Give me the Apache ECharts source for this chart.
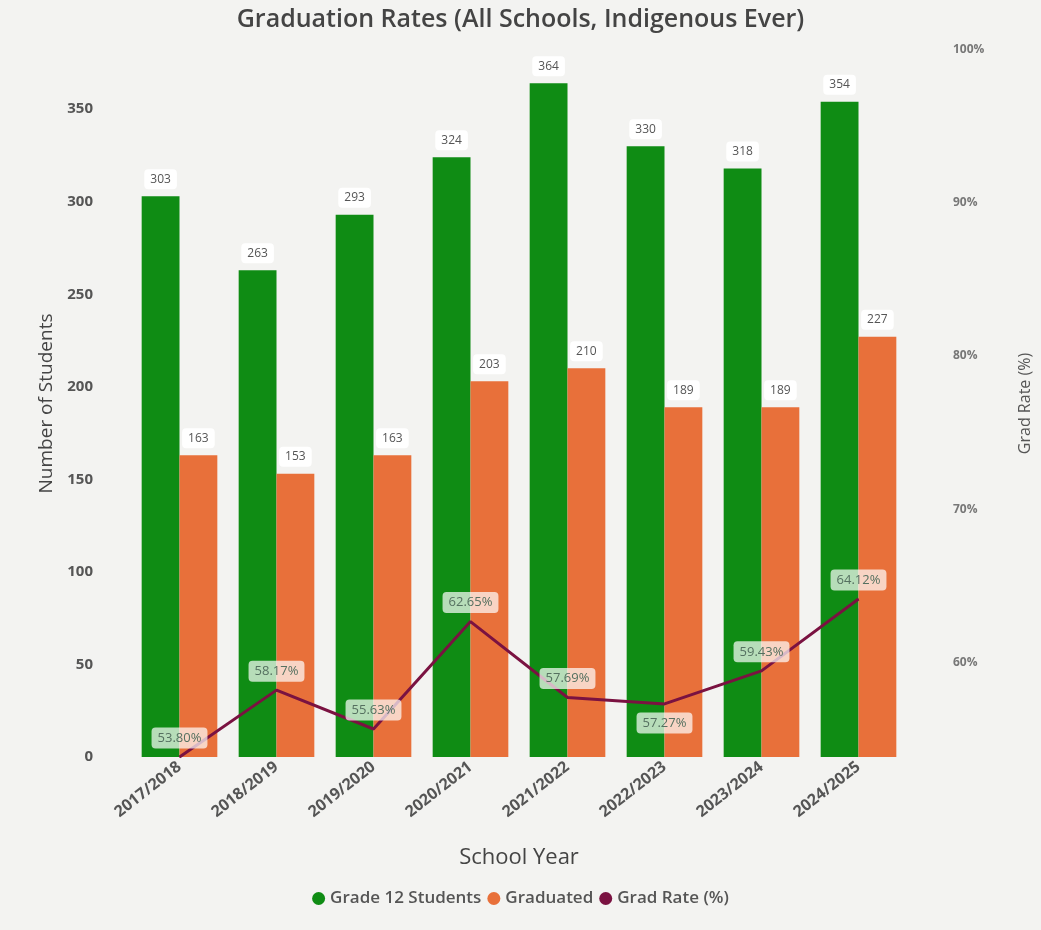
<!DOCTYPE html>
<html>
<head>
<meta charset="utf-8">
<script src="https://cdn.jsdelivr.net/npm/echarts@6/dist/echarts.min.js"></script>
<style>
html, body { margin: 0; padding: 0; background: #f3f3f1; }
#chart { width: 1041px; height: 930px; }
</style>
</head>
<body>
<div id="chart"></div>
<script>
var years = ['2017/2018', '2018/2019', '2019/2020', '2020/2021', '2021/2022', '2022/2023', '2023/2024', '2024/2025'];
var grade12 = [303, 263, 293, 324, 364, 330, 318, 354];
var graduated = [163, 153, 163, 203, 210, 189, 189, 227];
var gradRate = [53.80, 58.17, 55.63, 62.65, 57.69, 57.27, 59.43, 64.12];
var rateTicks = [60, 70, 80, 90, 100];

function draw_chart(id) {
    var myChart = echarts.init(document.getElementById(id));
    var font = '"Open Sans", Lato, sans-serif';

    var barLabel = {
        show: true,
        position: 'top',
        distance: 7,
        color: '#555',
        fontSize: 12,
        fontFamily: font,
        backgroundColor: '#ffffff',
        borderRadius: 4,
        padding: [4, 6]
    };

    var rateData = gradRate.map(function (v, i) {
        var d = { value: v };
        if (i == 5) {
            d.label = { position: 'bottom' };
        }
        return d;
    });

    var option = {
        backgroundColor: '#f3f3f1',
        title: {
            text: 'Graduation Rates (All Schools, Indigenous Ever)',
            left: 'center',
            top: 2,
            textStyle: { color: '#444', fontSize: 25, fontWeight: 600, fontFamily: font }
        },
        legend: {
            bottom: 18,
            left: 'center',
            icon: 'circle',
            itemWidth: 13,
            itemHeight: 13,
            itemGap: 6,
            textStyle: { color: '#555', fontSize: 17, fontWeight: 600, fontFamily: font },
            data: ['Grade 12 Students', 'Graduated', 'Grad Rate (%)']
        },
        grid: { left: 131, right: 134, top: 50, bottom: 173 },
        xAxis: {
            type: 'category',
            data: years,
            name: 'School Year',
            nameLocation: 'middle',
            nameGap: 90,
            nameTextStyle: { color: '#444', fontSize: 22, fontFamily: font },
            axisLine: { show: false },
            axisTick: { show: false },
            axisLabel: { rotate: 38, color: '#555', fontSize: 16, fontWeight: 'bold', fontFamily: font, margin: 8 }
        },
        yAxis: [
            {
                type: 'value',
                min: 0,
                max: 382,
                interval: 50,
                name: 'Number of Students',
                nameLocation: 'middle',
                nameGap: 62,
                nameTextStyle: { color: '#444', fontSize: 19, fontFamily: font },
                splitLine: { show: false },
                axisLine: { show: false },
                axisTick: { show: false },
                axisLabel: { color: '#555', fontSize: 15, fontWeight: 'bold', fontFamily: font, showMaxLabel: false, margin: 38 }
            },
            {
                type: 'value',
                min: 53.8,
                max: 100,
                name: 'Grad Rate (%)',
                nameLocation: 'middle',
                nameGap: 110,
                nameRotate: 90,
                nameTextStyle: { color: '#555', fontSize: 16, fontFamily: font },
                splitLine: { show: false },
                axisLine: { show: false },
                axisTick: { show: false },
                axisLabel: {
                    customValues: rateTicks,
                    color: '#777', fontSize: 12, fontWeight: 'bold', fontFamily: font, margin: 46,
                    formatter: function (v) { return v + '%'; }
                }
            }
        ],
        series: [
            {
                name: 'Grade 12 Students',
                type: 'bar',
                data: grade12,
                barGap: '0%',
                barCategoryGap: '22%',
                itemStyle: { color: '#0f8c14' },
                label: barLabel
            },
            {
                name: 'Graduated',
                type: 'bar',
                data: graduated,
                itemStyle: { color: '#e8703a' },
                label: barLabel
            },
            {
                name: 'Grad Rate (%)',
                type: 'line',
                yAxisIndex: 1,
                data: rateData,
                symbol: 'circle',
                symbolSize: 1,
                showAllSymbol: true,
                z: 5,
                lineStyle: { color: '#7a1241', width: 3 },
                itemStyle: { color: '#7a1241' },
                label: {
                    show: true,
                    position: 'top',
                    distance: 8,
                    color: '#557060',
                    fontSize: 13,
                    fontFamily: font,
                    backgroundColor: 'rgba(255,255,255,0.7)',
                    borderRadius: 4,
                    padding: [4, 6],
                    formatter: function (p) { return p.value.toFixed(2) + '%'; }
                }
            }
        ]
    };
    myChart.setOption(option);
}

draw_chart('chart');
</script>
</body>
</html>
